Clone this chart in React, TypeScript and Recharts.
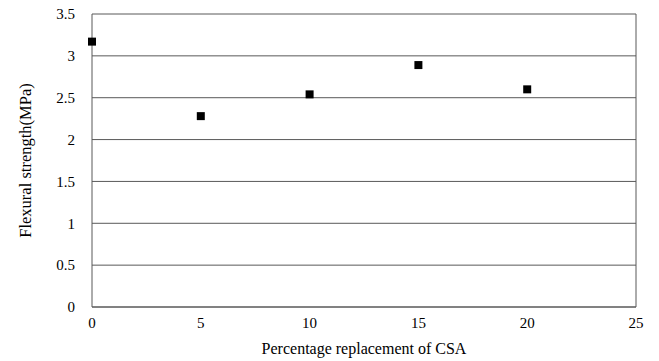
import { ScatterChart, Scatter, XAxis, YAxis, ZAxis, CartesianGrid, ReferenceLine } from "recharts";

const replacement = [0, 5, 10, 15, 20];
const flexural = [3.17, 2.28, 2.54, 2.89, 2.6];
const xTicks = [0, 5, 10, 15, 20, 25];
const yTicks = [0, 0.5, 1, 1.5, 2, 2.5, 3, 3.5];

const data = replacement.map((x, i) => ({ x, y: flexural[i] }));

const FONT = "'Liberation Serif', 'Times New Roman', serif";
const AXIS = "#595959";

// custom ticks so the serif font is used for sure
const XTick = (props: any) => (
  <text x={props.x} y={props.y + 8} dy="0.71em" textAnchor="middle" fill="#000" fontSize={15} fontFamily={FONT}>
    {props.payload.value}
  </text>
);

const YTick = (props: any) => (
  <text x={props.x - 15} y={props.y} dy="0.355em" textAnchor="end" fill="#000" fontSize={15} fontFamily={FONT}>
    {props.payload.value}
  </text>
);

export default function App() {
  return (
    <div style={{ position: "absolute", left: 0, top: 0, width: 659, height: 361, background: "#fff", fontFamily: FONT }}>
      <ScatterChart width={659} height={361} margin={{ top: 14, right: 23, bottom: 0, left: 0 }}>
        <CartesianGrid vertical={false} stroke={AXIS} strokeWidth={1} />
        <XAxis
          type="number"
          dataKey="x"
          domain={[0, 25]}
          ticks={xTicks}
          height={54}
          tickLine={false}
          tickSize={0}
          stroke={AXIS}
          tick={XTick}
          label={{ value: "Percentage replacement of CSA", position: "insideBottom", offset: 7, fill: "#000", fontSize: 16, fontFamily: FONT }}
        />
        <YAxis
          type="number"
          dataKey="y"
          domain={[0, 3.5]}
          ticks={yTicks}
          width={92}
          tickLine={false}
          tickSize={0}
          stroke={AXIS}
          tick={YTick}
          label={{ value: "Flexural strength(MPa)", angle: -90, position: "insideLeft", offset: 25, style: { textAnchor: "middle" }, fill: "#000", fontSize: 16.5, fontFamily: FONT }}
        />
        <ZAxis range={[100, 100]} />
        <ReferenceLine x={25} stroke={AXIS} />
        <Scatter data={data} fill="#000" shape="square" legendType="none" isAnimationActive={false} />
      </ScatterChart>
    </div>
  );
}
